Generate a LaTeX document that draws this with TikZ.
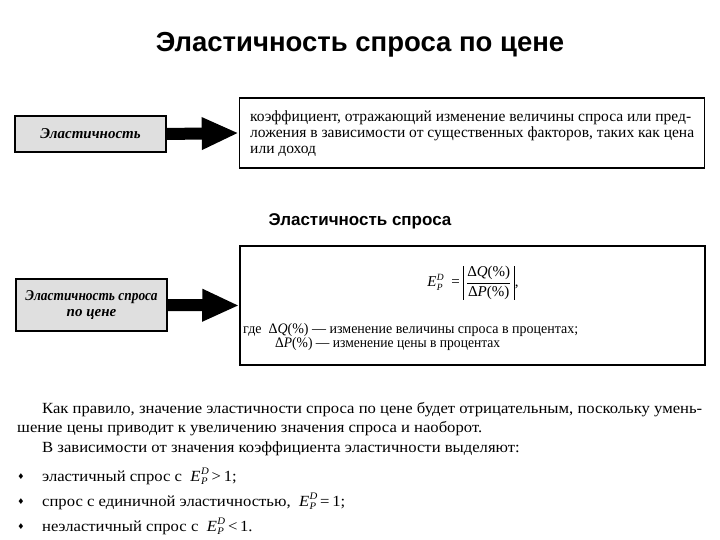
\documentclass[tikz,border=0pt]{standalone}
\usepackage{fontspec}
\usepackage{amsmath}
\usepackage{graphicx}
\setmainfont{Liberation Serif}
\newfontfamily\sansbold{Liberation Sans}
\newfontfamily\dejavu{DejaVu Sans}
\usetikzlibrary{arrows.meta}
\newcommand\fitw[2]{\resizebox{#1}{\height}{#2}}
\newcommand\EPD[1][10]{\textit{E}\kern0.5pt\raisebox{-3.5pt}{\fontsize{#1}{#1}\selectfont\shortstack[l]{\textit{D}\\[0.6pt]\textit{P}}}}
\newlength\plen
\newcommand\bodyfont{\fontsize{15.5}{18}\selectfont}
\newcommand\boxfont{\fontsize{15.5}{17}\selectfont}
\tikzset{
  graybox/.style={draw=black, line width=1.8pt, fill=gray!25, align=center,
    font=\fontsize{15}{17}\selectfont\bfseries\itshape, inner sep=0pt},
  defbox/.style={draw=black, line width=1.5pt, fill=white, inner sep=0pt},
  bigarrow/.style={draw=black, line width=12pt, -{Triangle[length=37pt,width=30pt]}},
  boxtext/.style={anchor=base west, inner sep=0pt, font=\boxfont},
  bodytext/.style={anchor=base west, inner sep=0pt, font=\bodyfont},
  bul/.style={inner sep=0pt, font=\dejavu\fontsize{8}{10}\selectfont}
}
\begin{document}
\settowidth\plen{\bodyfont Как правило, значение эластичности спроса по цене будет отрицательным, поскольку умень-}
\pgfmathsetmacro\bsx{660/\plen}
\settowidth\plen{\boxfont коэффициент, отражающий изменение величины спроса или пред-}
\pgfmathsetmacro\tsx{441/\plen}
\newcommand\bs[1]{\scalebox{\bsx}[1]{#1}}
\newcommand\ts[1]{\scalebox{\tsx}[1]{#1}}
\begin{tikzpicture}[x=1pt,y=-1pt]
\useasboundingbox[fill=white] (0,0) rectangle (720,540);

\node[font=\sansbold\bfseries\fontsize{27.5}{30}\selectfont] (title) at (360,45) {Эластичность спроса по цене};

% row 1
\node[graybox, minimum width=151, minimum height=36] (b1) at (90.5,134) {Эластичность};
\node[defbox, minimum width=465, minimum height=70] (d1) at (472,133) {};
\draw[bigarrow] (b1.east) -- (d1.west);
\node[boxtext] (t1) at (250,122) {\ts{коэффициент, отражающий изменение величины спроса или пред-}};
\node[boxtext] (t2) at (250,138) {\ts{ложения в зависимости от существенных факторов, таких как цена}};
\node[boxtext] (t3) at (250,154) {\ts{или доход}};

% subtitle
\node[font=\sansbold\bfseries\fontsize{17}{20}\selectfont] (sub) at (360,221) {Эластичность спроса};

% row 2
\node[graybox, minimum width=151, minimum height=52] (b2) at (91.5,305)
  {\fitw{132pt}{Эластичность спроса}\\[-1pt]по цене};
\node[defbox, minimum width=465, minimum height=119] (d2) at (472.5,305.5) {};
\draw[bigarrow] (b2.east) -- (d2.west);
\node[inner sep=0pt, font=\fontsize{15}{17}\selectfont] (f) at (473,283)
  {\EPD[9.5]\ \ =\ {\setlength\tabcolsep{2.5pt}\setlength\arrayrulewidth{0.6pt}\begin{tabular}{|c|}$\dfrac{\text{Δ\textit{Q}(\%)}}{\text{Δ\textit{P}(\%)}}$\end{tabular}}\kern1pt,};
\node[boxtext, font=\fontsize{14.5}{16}\selectfont] (g1) at (243,333) {\fitw{335pt}{где \ Δ\textit{Q}(\%) — изменение величины спроса в процентах;}};
\node[boxtext, font=\fontsize{14.5}{16}\selectfont] (g2) at (275,347) {\fitw{225pt}{Δ\textit{P}(\%) — изменение цены в процентах}};

% bottom text
\node[bodytext] (p1) at (42,413) {\bs{Как правило, значение эластичности спроса по цене будет отрицательным, поскольку умень-}};
\node[bodytext] (p2) at (17,432) {\bs{шение цены приводит к увеличению значения спроса и наоборот.}};
\node[bodytext] (p3) at (42,452) {\bs{В зависимости от значения коэффициента эластичности выделяют:}};

\node[bul] (k1) at (21,477) {♦};
\node[bodytext] (q1) at (42,481) {\bs{эластичный спрос с \ \EPD\,>\,1;}};
\node[bul] (k2) at (21,502) {♦};
\node[bodytext] (q2) at (42,506) {\bs{спрос с единичной эластичностью, \ \EPD\,=\,1;}};
\node[bul] (k3) at (21,527) {♦};
\node[bodytext] (q3) at (42,531) {\bs{неэластичный спрос с \ \EPD\,<\,1.}};
\end{tikzpicture}
\end{document}
